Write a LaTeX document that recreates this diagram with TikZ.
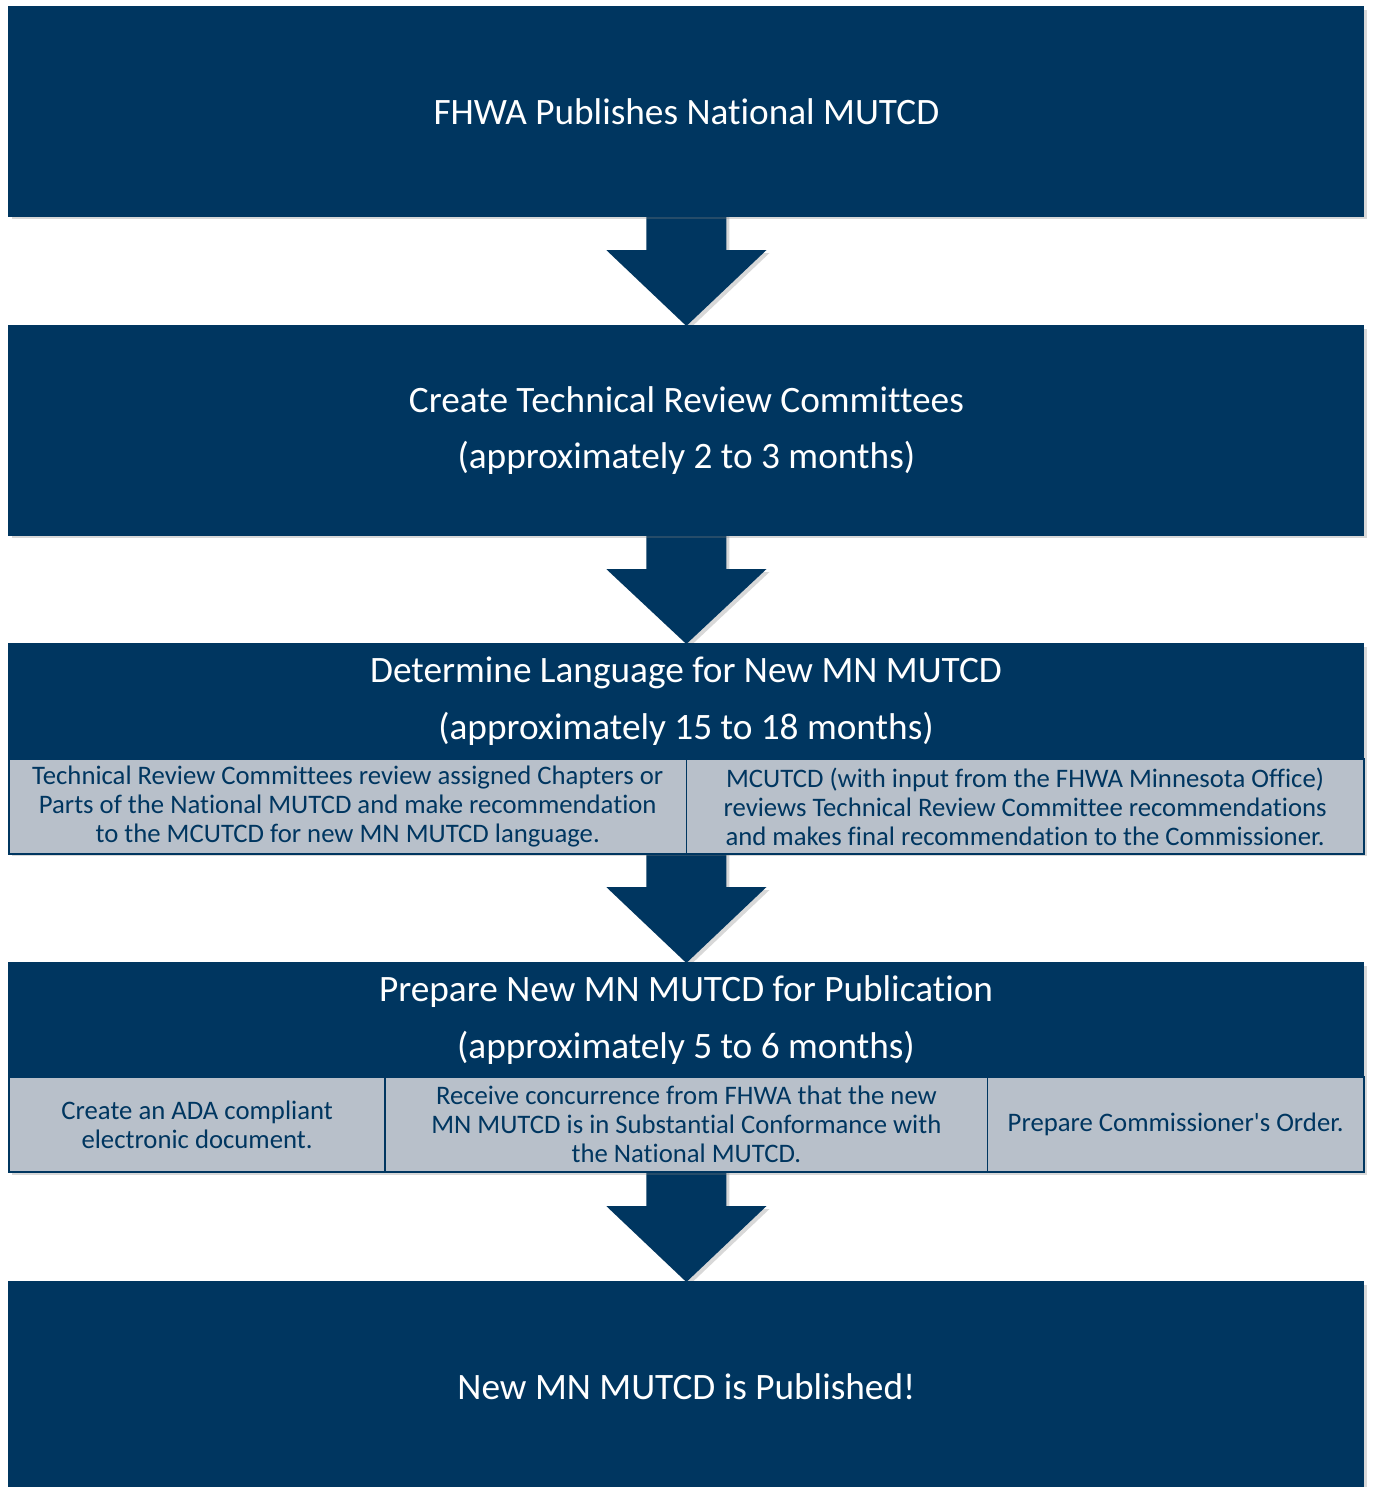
\documentclass[tikz,border=0pt]{standalone}
\usepackage{fontspec}
\setmainfont{Carlito}[Ligatures={NoCommon}]
\usetikzlibrary{calc,shadows}
\definecolor{mndot}{RGB}{0,54,96}
\definecolor{mngray}{RGB}{184,192,202}
\pgfdeclarelayer{background}
\pgfsetlayers{background,main}

\begin{document}
\begin{tikzpicture}[x=0.01cm,y=-0.01cm,
  stage/.style={fill=mndot,draw=mndot,minimum width=13.54cm,minimum height=2.09cm,
    anchor=north west,inner sep=0pt,outer sep=0pt,
    drop shadow={shadow xshift=0.03cm,shadow yshift=-0.03cm,opacity=0.3}},
  title/.style={text=white,font=\fontsize{10.6}{16.2}\selectfont,align=center},
  task/.style={fill=mngray,draw=mndot,line width=0.5pt,anchor=north west,
    minimum height=0.95cm,inner sep=0pt,outer sep=0pt,text=mndot,align=center,
    font=\fontsize{7.6}{8.25}\selectfont},
  blockarrow/.style={fill=mndot,
    drop shadow={shadow xshift=0.03cm,shadow yshift=-0.03cm,opacity=0.3}}]
  \begin{pgfonlayer}{background}
    \fill[white] (0,0) rectangle (1373,1487);
  \end{pgfonlayer}
  \useasboundingbox (0,0) rectangle (1373,1487);

  % stages
  \node[stage,title] (fhwa) at (9,7) {FHWA Publishes National MUTCD};
  \node[stage,title] (trc) at (9,326) {Create Technical Review Committees\\(approximately 2 to 3 months)};
  \node[stage] (lang) at (9,644) {};
  \node[stage] (prep) at (9,963) {};
  \node[stage,title] (pub) at (9,1282) {New MN MUTCD is Published!};

  % stage headers
  \node[title] (langhead) at (686,701) {Determine Language for New MN MUTCD\\(approximately 15 to 18 months)};
  \node[title] (prephead) at (686,1020) {Prepare New MN MUTCD for Publication\\(approximately 5 to 6 months)};

  % tasks
  \node[task,minimum width=6.77cm] (review) at (9,759) {Technical Review Committees review assigned Chapters or\\Parts of the National MUTCD and make recommendation\\to the MCUTCD for new MN MUTCD language.};
  \node[task,minimum width=6.77cm] (mcutcd) at (review.north east) {MCUTCD (with input from the FHWA Minnesota Office)\\reviews Technical Review Committee recommendations\\and makes final recommendation to the Commissioner.};
  \node[task,minimum width=3.76cm] (ada) at (9,1077) {Create an ADA compliant\\electronic document.};
  \node[task,minimum width=6.02cm] (concur) at (ada.north east) {Receive concurrence from FHWA that the new\\MN MUTCD is in Substantial Conformance with\\the National MUTCD.};
  \node[task,minimum width=3.76cm] (order) at (concur.north east) {Prepare Commissioner\textquotesingle s Order.};

  % arrows
  \begin{pgfonlayer}{background}
    \foreach \a/\b in {fhwa/trc,trc/lang,lang/prep,prep/pub}
      \fill[blockarrow] ($(\a.south)+(-40,-2)$) -- ($(\a.south)+(-40,34)$)
        -- ($(\a.south)+(-80,34)$) -- (\b.north) -- ($(\a.south)+(80,34)$)
        -- ($(\a.south)+(40,34)$) -- ($(\a.south)+(40,-2)$) -- cycle;
  \end{pgfonlayer}
\end{tikzpicture}
\end{document}
